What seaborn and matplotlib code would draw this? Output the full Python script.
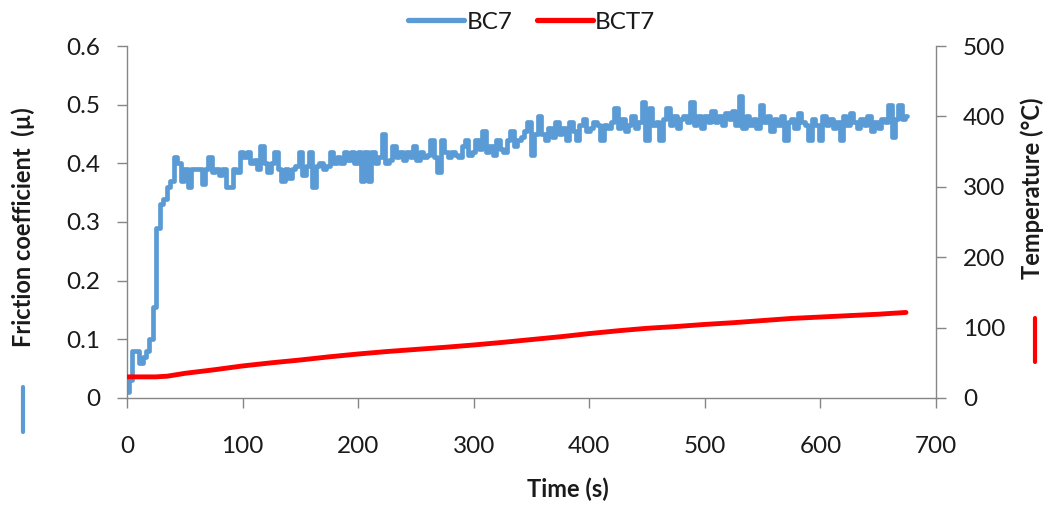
import numpy as np
import matplotlib
matplotlib.use("Agg")
import matplotlib.pyplot as plt
import seaborn as sns
from matplotlib.lines import Line2D
from matplotlib.ticker import FuncFormatter

# ---------------- data ----------------
time_bc7 = np.arange(0, 676, 3)
mu_bc7 = [
    0.01, 0.03, 0.08, 0.08, 0.06, 0.07, 0.08, 0.10, 0.155, 0.29,
    0.33, 0.34, 0.36, 0.37, 0.41, 0.40, 0.37, 0.39, 0.36, 0.39,
    0.39, 0.39, 0.365, 0.39, 0.41, 0.385, 0.39, 0.38, 0.39, 0.36,
    0.36, 0.39, 0.385, 0.42, 0.41, 0.42, 0.40, 0.405, 0.39, 0.43,
    0.40, 0.385, 0.40, 0.42, 0.39, 0.37, 0.39, 0.375, 0.39, 0.395,
    0.42, 0.38, 0.395, 0.42, 0.36, 0.395, 0.40, 0.39, 0.395, 0.42,
    0.40, 0.41, 0.40, 0.42, 0.405, 0.42, 0.40, 0.42, 0.37, 0.42,
    0.37, 0.42, 0.40, 0.41, 0.45, 0.40, 0.405, 0.43, 0.41, 0.42,
    0.405, 0.42, 0.41, 0.43, 0.405, 0.42, 0.41, 0.415, 0.44, 0.41,
    0.385, 0.44, 0.42, 0.41, 0.42, 0.415, 0.41, 0.43, 0.44, 0.415,
    0.42, 0.44, 0.425, 0.455, 0.42, 0.43, 0.415, 0.44, 0.425, 0.42,
    0.44, 0.455, 0.43, 0.44, 0.445, 0.455, 0.47, 0.415, 0.45, 0.48,
    0.45, 0.44, 0.46, 0.445, 0.47, 0.45, 0.46, 0.44, 0.47, 0.455,
    0.44, 0.465, 0.475, 0.455, 0.46, 0.47, 0.465, 0.44, 0.465, 0.46,
    0.47, 0.495, 0.46, 0.475, 0.455, 0.465, 0.48, 0.46, 0.47, 0.505,
    0.44, 0.495, 0.465, 0.47, 0.44, 0.475, 0.495, 0.465, 0.48, 0.46,
    0.475, 0.48, 0.47, 0.505, 0.465, 0.48, 0.46, 0.48, 0.47, 0.49,
    0.47, 0.48, 0.465, 0.485, 0.475, 0.49, 0.465, 0.515, 0.46, 0.48,
    0.465, 0.475, 0.46, 0.50, 0.47, 0.48, 0.455, 0.475, 0.465, 0.48,
    0.44, 0.47, 0.475, 0.46, 0.485, 0.47, 0.465, 0.44, 0.475, 0.465,
    0.44, 0.48, 0.465, 0.475, 0.46, 0.47, 0.44, 0.48, 0.465, 0.485,
    0.47, 0.46, 0.475, 0.465, 0.48, 0.455, 0.47, 0.46, 0.475, 0.47,
    0.50, 0.445, 0.475, 0.50, 0.475, 0.48,
]

time_bct7 = [0, 25, 35, 50, 75, 100, 125, 150, 175, 200, 225, 250, 275, 300,
             325, 350, 375, 400, 425, 450, 475, 500, 525, 550, 575, 600, 625,
             650, 674]
temp_bct7 = [30, 30, 31, 35, 40, 45.5, 50, 54, 58.5, 62.5, 66, 69, 72, 75.3,
             79, 83, 87, 91.5, 95.5, 99, 101.5, 104.5, 107, 110, 113, 115, 117,
             119, 121.5]

series_names = ["BC7", "BCT7"]
x_ticks = [0, 100, 200, 300, 400, 500, 600, 700]
mu_ticks = [0, 0.1, 0.2, 0.3, 0.4, 0.5, 0.6]
temp_ticks = [0, 100, 200, 300, 400, 500]

# ---------------- style ----------------
sns.set_style("white")
plt.rcParams['font.family'] = ['Lato', 'DejaVu Sans']

BLUE = "#5B9BD5"
RED = "#FF0000"
GRAY = "#868686"
TXT = "#1a1a1a"

fig = plt.figure(figsize=(10.51, 5.05), dpi=100)
ax = fig.add_axes([0.1208, 0.2119, 0.7698, 0.6970])
ax2 = ax.twinx()

sns.lineplot(x=time_bc7, y=mu_bc7, ax=ax, color=BLUE, linewidth=3.4,
             label=series_names[0], legend=False, drawstyle='steps-mid',
             solid_joinstyle='round', solid_capstyle='round')
sns.lineplot(x=time_bct7, y=temp_bct7, ax=ax2, color=RED, linewidth=3.5,
             label=series_names[1], legend=False, solid_capstyle='round')

ax.set_xlim(0, 700)
ax.set_ylim(0, 0.6)
ax2.set_ylim(0, 500)
ax.set_xticks(x_ticks)
ax.set_yticks(mu_ticks)
ax2.set_yticks(temp_ticks)
ax.yaxis.set_major_formatter(FuncFormatter(lambda v, p: "0" if v == 0 else f"{v:.1f}"))

for a in (ax, ax2):
    for s in a.spines.values():
        s.set_visible(False)
ax.spines['left'].set_visible(True)
ax.spines['bottom'].set_visible(True)
ax2.spines['right'].set_visible(True)
for s in (ax.spines['left'], ax.spines['bottom'], ax2.spines['right']):
    s.set_color(GRAY)
    s.set_linewidth(1.0)

ax.tick_params(axis='x', direction='out', length=7.5, width=1, color=GRAY,
               labelsize=17.5, labelcolor=TXT, pad=20, bottom=True)
ax.tick_params(axis='y', direction='out', length=7.5, width=1, color=GRAY,
               labelsize=17.5, labelcolor=TXT, pad=12, left=True, right=False)
ax2.tick_params(axis='y', direction='out', length=7, width=1, color=GRAY,
                labelsize=17.5, labelcolor=TXT, pad=12.5, right=True, left=False)
ax.grid(False)
ax2.grid(False)

ax.set_xlabel("Time (s)", fontsize=17, fontweight='bold', color=TXT)
ax.xaxis.set_label_coords(0.545, -0.2585)
ax.xaxis.label.set_va('center')
ax.set_ylabel("Friction coefficient  (\u00b5)", fontsize=17, fontweight='bold', color=TXT)
ax.yaxis.label.set_va('center')
ax.yaxis.set_label_coords(-0.1286, 0.486)
ax2.set_ylabel("Temperature (\u00b0C)", fontsize=17, fontweight='bold', color=TXT)
ax2.yaxis.label.set_va('center')
ax2.yaxis.label.set_rotation(90)
ax2.yaxis.set_label_coords(1.1187, 0.5966)

# series keys under the axis titles
fig.add_artist(Line2D([0.0219, 0.0219], [0.1446, 0.2337], color=BLUE, lw=3,
                      transform=fig.transFigure))
fig.add_artist(Line2D([0.9848, 0.9848], [0.2832, 0.3703], color=RED, lw=3,
                      transform=fig.transFigure))

handles = [Line2D([], [], color=BLUE, lw=3.8, solid_capstyle='round'),
           Line2D([], [], color=RED, lw=3.8, solid_capstyle='round')]
fig.legend(handles, series_names, loc='center', bbox_to_anchor=(0.506, 0.956),
           ncol=2, frameon=False, fontsize=17.5, handlelength=2.3,
           handletextpad=0.1, columnspacing=1.0, labelcolor=TXT)

fig.savefig("out.png", dpi=100)
